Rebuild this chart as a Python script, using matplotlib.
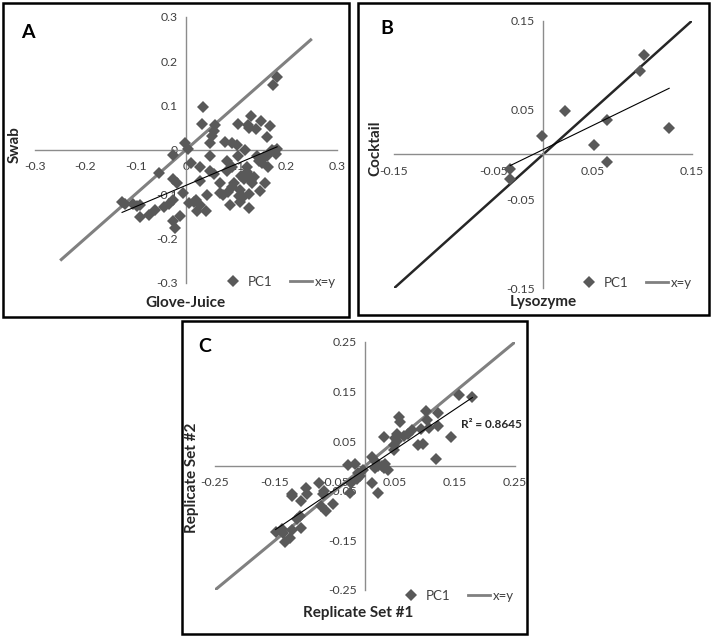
import numpy as np
import matplotlib
matplotlib.use("Agg")
import matplotlib.pyplot as plt
from matplotlib.patches import Rectangle
from matplotlib.lines import Line2D

plt.rcParams['font.family'] = ['Lato', 'DejaVu Sans']

# ---------------- data ----------------
# Panel A: Glove-Juice (x) vs Swab (y)
a_x = [0.180, 0.173, 0.033, 0.032, 0.058, 0.055, 0.052, 0.129, 0.103, 0.123, 0.126,
       0.140, 0.149, 0.166, 0.160, 0.048, 0.078, 0.091, 0.101, 0.118, 0.103, -0.001,
       0.004, -0.025, 0.010, 0.028, 0.048, 0.082, 0.048, 0.055, 0.028, -0.054, -0.026,
       -0.018, -0.025, -0.006, -0.034, -0.011, -0.025, -0.021, -0.127, -0.122, -0.105,
       -0.098, -0.091, -0.091, -0.074, -0.061, -0.043, 0.005, 0.015, 0.020, 0.027,
       0.022, 0.040, 0.042, 0.068, 0.073, 0.083, 0.091, 0.095, 0.088, 0.107, 0.106,
       0.108, 0.113, 0.125, 0.125, 0.068, 0.121, 0.122, 0.125, 0.129, 0.115, 0.131,
       0.148, 0.156, 0.141, 0.145, 0.154, 0.151, 0.161, 0.162, 0.174, 0.178, 0.181,
       0.171, 0.082, 0.091, 0.110, 0.135]
a_y = [0.163, 0.146, 0.097, 0.058, 0.056, 0.043, 0.032, 0.077, 0.058, 0.056, 0.050,
       0.047, 0.064, 0.054, 0.029, 0.015, 0.017, 0.015, 0.011, 0.000, -0.014, 0.014,
       0.002, -0.011, -0.029, -0.038, -0.015, -0.026, -0.049, -0.055, -0.070, -0.053,
       -0.066, -0.074, -0.113, -0.098, -0.123, -0.149, -0.160, -0.177, -0.119, -0.123,
       -0.123, -0.127, -0.124, -0.151, -0.147, -0.136, -0.130, -0.121, -0.119, -0.113,
       -0.124, -0.138, -0.139, -0.102, -0.098, -0.102, -0.096, -0.085, -0.076, -0.124,
       -0.119, -0.105, -0.092, -0.107, -0.100, -0.132, -0.076, -0.040, -0.050, -0.059,
       -0.070, -0.066, -0.076, -0.094, -0.076, -0.014, -0.025, -0.017, -0.030, -0.014,
       -0.040, -0.002, -0.010, 0.002, -0.001, -0.047, -0.038, -0.060, -0.062]

# Panel B: Lysozyme (x) vs Cocktail (y)
b_x = [0.102, 0.098, 0.022, 0.064, 0.127, -0.001, 0.051, 0.064, -0.033, -0.033]
b_y = [0.111, 0.094, 0.049, 0.039, 0.030, 0.021, 0.011, -0.008, -0.016, -0.027]

# Panel C: Replicate Set #1 (x) vs Replicate Set #2 (y)
c_x = [0.157, 0.179, 0.101, 0.122, 0.057, 0.059, 0.104, 0.122, 0.093, 0.107, 0.079,
       0.072, 0.053, 0.050, 0.031, 0.143, 0.096, 0.088, 0.053, 0.048, 0.049, 0.118,
       0.011, 0.033, 0.028, 0.032, 0.021, 0.016, 0.039, 0.011, 0.021, -0.028, -0.016,
       -0.008, -0.014, -0.023, -0.025, -0.076, -0.098, -0.096, -0.122, -0.121, -0.068,
       -0.070, -0.106, -0.054, -0.074, -0.065, -0.109, -0.114, -0.149, -0.138, -0.136,
       -0.134, -0.121, -0.125, -0.106, -0.012, -0.003, 0.017, 0.065]
c_y = [0.143, 0.139, 0.111, 0.106, 0.099, 0.089, 0.092, 0.081, 0.075, 0.077, 0.072,
       0.064, 0.064, 0.057, 0.059, 0.059, 0.045, 0.042, 0.050, 0.042, 0.032, 0.015,
       0.018, 0.005, 0.000, -0.004, 0.000, -0.005, -0.008, -0.035, -0.054, 0.002,
       0.005, -0.020, -0.026, -0.034, -0.055, -0.035, -0.044, -0.057, -0.057, -0.061,
       -0.050, -0.057, -0.071, -0.076, -0.081, -0.090, -0.101, -0.106, -0.133, -0.127,
       -0.136, -0.153, -0.129, -0.145, -0.124, -0.015, -0.008, 0.010, 0.060]

a_ticks = [-0.3, -0.2, -0.1, 0, 0.1, 0.2, 0.3]
a_labels = ['-0.3', '-0.2', '-0.1', '0', '0.1', '0.2', '0.3']
b_ticks = [-0.15, -0.05, 0.05, 0.15]
b_labels = ['-0.15', '-0.05', '0.05', '0.15']
c_ticks = [-0.25, -0.15, -0.05, 0.05, 0.15, 0.25]
c_labels = ['-0.25', '-0.15', '-0.05', '0.05', '0.15', '0.25']

a_identity = [-0.25, 0.25]
b_identity = [-0.15, 0.15]
c_identity = [-0.25, 0.25]

# ---------------- figure ----------------
W, H = 713, 640
fig = plt.figure(figsize=(W / 100, H / 100), dpi=100)

def fx(px):
    return px / W

def fy(py):
    return 1 - py / H

MARK = '#595959'
TXT = '#404040'
AX = '#8c8c8c'

def panel(rect, x, y, ticks, labels, lim, ident, ident_color, ident_lw,
          xlabel, ylabel, letter, xl_pos, yl_pos, letter_pos, leg_pos, r2=None):
    ax = fig.add_axes(rect)
    ax.set_xlim(-lim, lim)
    ax.set_ylim(-lim, lim)
    for s in ['top', 'right']:
        ax.spines[s].set_visible(False)
    for s in ['left', 'bottom']:
        ax.spines[s].set_position(('data', 0))
        ax.spines[s].set_color(AX)
        ax.spines[s].set_linewidth(1.0)
    ax.set_xticks(ticks)
    ax.set_xticklabels(labels)
    ax.set_yticks(ticks)
    ax.set_yticklabels(labels)
    ax.tick_params(axis='x', length=0, pad=8, labelsize=8.8, labelcolor=TXT)
    ax.tick_params(axis='y', length=0, pad=6, labelsize=8.8, labelcolor=TXT)
    ax.patch.set_alpha(0)
    ax.plot(ident, ident, color=ident_color, lw=ident_lw, zorder=2,
            solid_capstyle='butt')
    ax.plot(x, y, linestyle='none', marker='D', ms=5.8, color=MARK,
            markeredgewidth=0, zorder=3)
    xs = np.array(x)
    k, b0 = np.polyfit(xs, np.array(y), 1)
    tx = np.array([xs.min(), xs.max()])
    ax.plot(tx, k * tx + b0, color='black', lw=0.8, zorder=4)
    fig.text(fx(xl_pos[0]), fy(xl_pos[1]), xlabel, ha='center', va='center',
             fontsize=11, fontweight='bold', color='#262626')
    fig.text(fx(yl_pos[0]), fy(yl_pos[1]), ylabel, ha='center', va='center',
             rotation=90, fontsize=11, fontweight='bold', color='#262626')
    fig.text(fx(letter_pos[0]), fy(letter_pos[1]), letter, ha='center', va='center',
             fontsize=14, fontweight='bold', color='black')
    handles = [Line2D([], [], linestyle='none', marker='D', ms=5.8, color=MARK,
                      markeredgewidth=0),
               Line2D([], [], color='#808080', lw=2)]
    fig.legend(handles, ['PC1', 'x=y'], loc='center left', ncol=2,
               bbox_to_anchor=(fx(leg_pos[0]), fy(leg_pos[1])), frameon=False,
               fontsize=9.5, handlelength=1.7, handletextpad=0.25,
               columnspacing=1.3, borderpad=0, borderaxespad=0,
               labelcolor=TXT)
    if r2 is not None:
        fig.text(fx(r2[0]), fy(r2[1]), r2[2], ha='left', va='center',
                 fontsize=8.5, fontweight='bold', color='#262626')
    return ax

# Panel A
panel([fx(35), fy(282.7), (337 - 35) / W, (282.7 - 16.7) / H],
      a_x, a_y, a_ticks, a_labels, 0.3, a_identity, '#808080', 2.2,
      'Glove-Juice', 'Swab', 'A', (185, 303), (15, 145), (28, 32), (222, 282))

# Panel B
panel([fx(394), fy(288.3), (692 - 394) / W, (288.3 - 20.7) / H],
      b_x, b_y, b_ticks, b_labels, 0.15, b_identity, '#262626', 1.8,
      'Lysozyme', 'Cocktail', 'B', (543, 302), (375, 148), (387, 28), (578, 283))

# Panel C
panel([fx(215), fy(590), (515 - 215) / W, (590 - 342) / H],
      c_x, c_y, c_ticks, c_labels, 0.25, c_identity, '#808080', 2.2,
      'Replicate Set #1', 'Replicate Set #2', 'C', (358, 613), (192, 478), (205, 347),
      (400, 596), r2=(461, 424, 'R² = 0.8645'))

# panel frames
for (x0, y0, x1, y1) in [(3, 3, 349, 317), (358, 3, 709, 315), (182, 321, 527, 634)]:
    fig.add_artist(Rectangle((fx(x0), fy(y1)), (x1 - x0) / W, (y1 - y0) / H,
                             transform=fig.transFigure, fill=False,
                             edgecolor='black', lw=1.8))

fig.savefig('out.png', dpi=100)
